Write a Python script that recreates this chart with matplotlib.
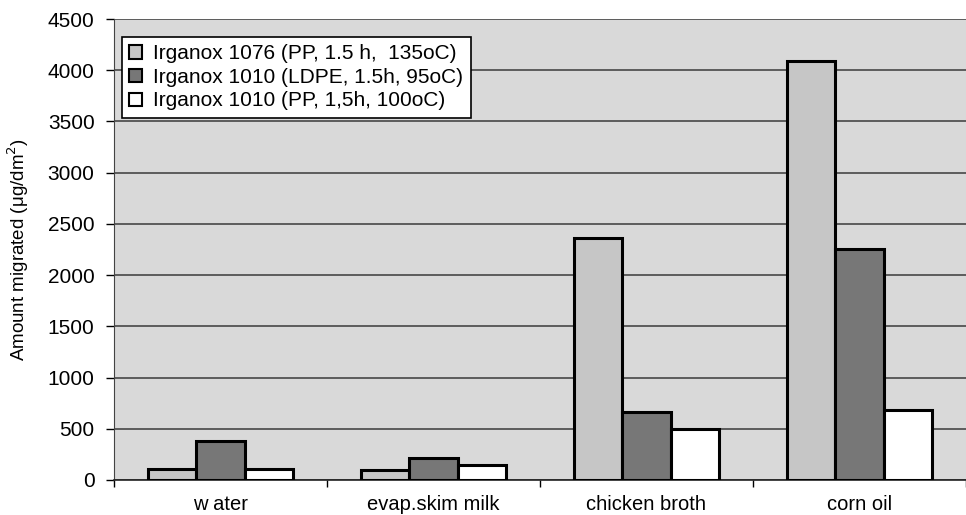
import numpy as np
import matplotlib.pyplot as plt

plt.rcParams['font.family'] = ['Liberation Sans', 'DejaVu Sans']

categories = ["w ater", "evap.skim milk", "chicken broth", "corn oil"]
series_names = ["Irganox 1076 (PP, 1.5 h,  135oC)",
                "Irganox 1010 (LDPE, 1.5h, 95oC)",
                "Irganox 1010 (PP, 1,5h, 100oC)"]
irganox1076_pp = [110, 95, 2360, 4090]
irganox1010_ldpe = [380, 215, 660, 2255]
irganox1010_pp = [110, 145, 500, 685]
yticks = [0, 500, 1000, 1500, 2000, 2500, 3000, 3500, 4000, 4500]

colors = ["#c6c6c6", "#777777", "#ffffff"]
series = [irganox1076_pp, irganox1010_ldpe, irganox1010_pp]

fig = plt.figure(figsize=(9.66, 5.15), dpi=100)
ax = fig.add_axes([0.118, 0.068, 0.882, 0.895])
ax.set_facecolor("#d9d9d9")

x = np.arange(len(categories))
width = 0.228
for i, (vals, name) in enumerate(zip(series, series_names)):
    ax.bar(x + (i - 1) * width, vals, width, color=colors[i],
           edgecolor="black", linewidth=2.2, label=name, zorder=3)

ax.set_xlim(-0.5, len(categories) - 0.5)
ax.set_ylim(0, 4500)
ax.set_yticks(yticks)
ax.tick_params(axis='y', labelsize=15, direction='out', length=6,
               width=1, pad=8)
ax.yaxis.grid(True, color="#3a3a3a", linewidth=1.1, zorder=1)
ax.set_axisbelow(True)

ax.set_xticks(x)
ax.set_xticklabels(categories, fontsize=14.5)
ax.tick_params(axis='x', length=0, pad=11)
ax.set_xticks(np.arange(-0.5, len(categories)), minor=True)
ax.tick_params(axis='x', which='minor', length=5, width=1, direction='out')

for side in ["top", "right"]:
    ax.spines[side].set_visible(False)
ax.spines["left"].set_color("#444444")
ax.spines["bottom"].set_color("#222222")
ax.spines["bottom"].set_linewidth(1.2)

ax.set_ylabel("Amount migrated (\u03bcg/dm$^2$)", fontsize=13.5, labelpad=12)

leg = ax.legend(loc="upper left", bbox_to_anchor=(0.0094, 0.961), fontsize=15,
                frameon=True, fancybox=False, framealpha=1,
                handlelength=0.6, handleheight=0.6, handletextpad=0.55,
                borderpad=0.35, labelspacing=0.22, borderaxespad=0)
leg.get_frame().set_edgecolor("black")
leg.get_frame().set_linewidth(1.2)
for h in leg.legend_handles:
    h.set_linewidth(1.5)

fig.savefig("out.png", dpi=100)
